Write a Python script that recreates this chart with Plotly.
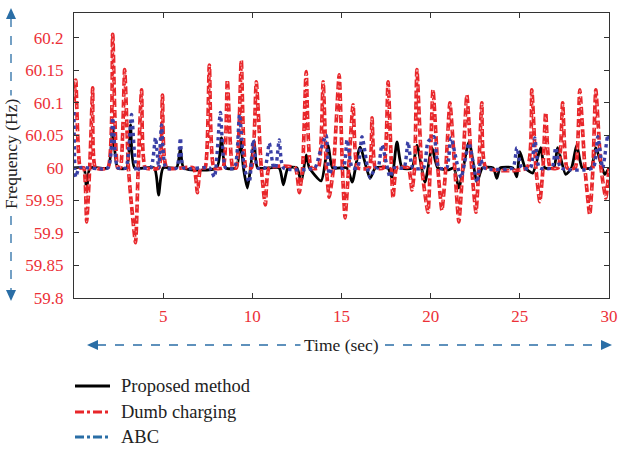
import plotly.graph_objects as go

# ---------------- data ----------------
t_proposed = [0, 0.55, 0.71, 0.9, 1.9, 2.17, 2.45, 2.95, 3.17, 3.4, 4.5, 4.74, 5.0, 5.75, 5.97, 6.15,
              8.0, 8.27, 8.5, 9.1, 9.33, 9.5, 9.72, 9.9, 10.11, 10.3, 11.5, 11.74, 12.0, 12.5, 12.74,
              13.02, 13.2, 13.86, 14.25, 14.5, 15.3, 15.6, 16.04, 16.6, 16.9, 17.6, 17.83, 18.11, 18.4,
              18.95, 19.23, 19.68, 20.07, 20.4, 21.02, 21.3, 21.58, 22.15, 22.6, 22.9, 23.5, 23.71, 23.9,
              24.6, 24.83, 25.0, 25.3, 25.72, 26.17, 26.4, 26.9, 27.12, 27.57, 27.9, 28.19, 28.5, 29.0,
              29.26, 29.76, 30]
f_proposed = [60.0, 60.0, 59.963, 60.0, 60.0, 60.062, 60.0, 60.0, 60.066, 60.0, 60.0, 59.958, 60.0, 60.0, 60.03, 60.0,
              60.0, 60.046, 60.0, 60.0, 60.043, 60.0, 59.969, 60.0, 60.04, 60.0, 60.0, 59.974, 60.0, 60.0, 59.978,
              60.02, 60.0, 59.98, 60.035, 60.0, 60.0, 59.978, 60.032, 59.984, 60.0, 60.0, 59.985, 60.04, 60.0,
              60.0, 60.035, 59.978, 60.031, 60.0, 59.997, 60.0, 59.969, 60.04, 59.978, 60.0, 60.0, 59.984, 60.0,
              60.0, 59.986, 60.025, 60.0, 59.992, 60.031, 60.0, 60.0, 60.031, 59.99, 60.0, 60.035, 60.0, 60.0,
              60.031, 59.99, 60.0]

t_dumb = [0, 0.1, 0.35, 0.55, 0.71, 0.88, 0.95, 1.05, 1.2, 1.9, 2.17, 2.45, 2.6, 2.84, 3.05, 3.2, 3.45, 3.6,
          3.79, 4.0, 4.75, 4.96, 5.2, 6.7, 6.92, 7.1, 7.35, 7.59, 7.85, 8.35, 8.6, 8.9, 9.1, 9.38, 9.65, 9.95,
          10.22, 10.5, 10.73, 10.95, 12.4, 12.63, 12.82, 13.02, 13.3, 13.7, 13.97, 14.15, 14.31, 14.55, 14.87,
          15.05, 15.2, 15.4, 15.65, 15.9, 16.55, 16.71, 16.9, 17.35, 17.61, 17.89, 18.1, 18.75, 18.95, 19.1,
          19.23, 19.5, 19.85, 20.13, 20.4, 20.63, 20.85, 21.08, 21.35, 21.58, 21.8, 22.03, 22.3, 22.54, 22.7,
          22.87, 23.1, 25.4, 25.67, 25.9, 26.12, 26.3, 26.45, 26.7, 27.15, 27.4, 27.65, 28.1, 28.36, 28.65,
          28.92, 29.1, 29.26, 29.55, 29.82, 30]
f_dumb = [60.10, 60.135, 60.0, 60.0, 59.917, 60.0, 60.05, 60.123, 60.0, 60.0, 60.205, 60.0, 60.0, 60.151, 60.0, 59.95, 59.885, 60.0,
          60.12, 60.0, 60.0, 60.112, 60.0, 60.0, 59.962, 60.0, 60.0, 60.158, 60.0, 60.0, 60.135, 60.0, 60.0, 60.165, 60.0, 60.0,
          60.132, 60.0, 59.943, 60.0, 60.0, 59.962, 60.0, 60.148, 60.0, 60.0, 60.132, 60.0, 59.955, 60.0, 60.143,
          60.0, 59.923, 60.0, 60.097, 60.0, 60.0, 60.077, 60.0, 60.0, 60.132, 59.954, 60.0, 60.0, 59.966, 60.0,
          60.151, 60.0, 59.932, 60.12, 60.0, 59.935, 60.0, 60.1, 60.0, 59.917, 60.0, 60.112, 60.0, 59.932, 60.0,
          60.1, 60.0, 60.0, 60.12, 60.0, 59.948, 60.0, 60.085, 60.0, 60.0, 60.1, 60.0, 60.0, 60.12, 60.0,
          59.928, 60.0, 60.12, 60.0, 59.954, 60.0]

t_abc = [0, 0.1, 0.3, 1.9, 2.17, 2.45, 2.9, 3.23, 3.51, 3.7, 4.3, 4.57, 4.75, 4.91, 5.15, 5.75, 5.97, 6.15,
         7.6, 7.87, 8.21, 8.5, 9.0, 9.28, 9.55, 9.83, 10.05, 10.3, 10.7, 10.95, 11.2, 11.3, 11.51, 11.75,
         13.5, 13.75, 14.14, 14.31, 14.5, 15.1, 15.31, 15.6, 15.9, 16.15, 16.6, 16.9, 17.05, 17.27, 17.72,
         17.95, 18.5, 18.73, 19.0, 19.6, 19.85, 20.18, 20.45, 20.9, 21.14, 21.7, 22.15, 22.6, 22.82, 23.0,
         24.6, 24.83, 25.1, 25.6, 25.84, 26.1, 26.8, 27.01, 27.3, 29.1, 29.37, 29.65, 29.93, 30]
f_abc = [60.086, 59.986, 60.0, 60.0, 60.077, 60.0, 60.0, 60.082, 59.994, 60.0, 60.0, 60.046, 60.0, 60.066, 60.0, 60.0, 60.046, 60.0,
         60.0, 59.986, 60.085, 60.0, 60.0, 60.082, 60.0, 59.978, 60.043, 60.0, 60.0, 60.038, 60.0, 60.0, 60.043, 60.0,
         60.0, 60.02, 60.05, 59.99, 60.0, 60.0, 60.043, 60.0, 60.0, 60.048, 59.985, 60.0, 60.0, 60.035, 59.986,
         60.0, 60.0, 60.04, 60.0, 60.0, 60.04, 60.048, 60.0, 60.0, 60.046, 59.985, 60.038, 59.978, 60.012, 60.0,
         60.0, 60.031, 60.0, 60.0, 60.046, 60.0, 60.0, 60.031, 60.0, 60.0, 60.048, 60.0, 60.05, 60.04]

x_ticks = [5, 10, 15, 20, 25, 30]
y_ticks = [59.8, 59.85, 59.9, 59.95, 60.0, 60.05, 60.1, 60.15, 60.2]
y_ticktext = ["59.8", "59.85", "59.9", "59.95", "60", "60.05", "60.1", "60.15", "60.2"]
legend_names = ["Proposed method", "Dumb charging", "ABC"]

# ---------------- style ----------------
FONT = "Liberation Serif"
RED = "#e8262a"
NAVY = "#3a40a6"
ARROW = "#2a6ea6"
TICKRED = "#ec3037"

fig = go.Figure()
fig.add_trace(go.Scatter(x=t_proposed, y=f_proposed, mode="lines", showlegend=False, name=legend_names[0],
                         line=dict(color="black", width=2.8, shape="spline", smoothing=0.6)))
fig.add_trace(go.Scatter(x=t_dumb, y=f_dumb, mode="lines", showlegend=False, name=legend_names[1],
                         line=dict(color=RED, width=3.7, dash="8px,3px", shape="spline", smoothing=0.5)))
fig.add_trace(go.Scatter(x=t_dumb, y=f_dumb, mode="lines", showlegend=False, hoverinfo="skip",
                         line=dict(color="rgba(255,225,225,0.75)", width=0.9, dash="2px,4px",
                                   shape="spline", smoothing=0.5)))
fig.add_trace(go.Scatter(x=t_abc, y=f_abc, mode="lines", showlegend=False, name=legend_names[2],
                         line=dict(color=NAVY, width=3.4, dash="dot", shape="spline", smoothing=0.6)))

X0, X1, Y0, Y1 = 74, 609, 13, 298
def px(x):
    return (x - X0) / (X1 - X0)
def py(y):
    return (Y1 - y) / (Y1 - Y0)

shapes = []
# y-axis arrow
shapes.append(dict(type="line", xref="paper", yref="paper", x0=px(11), x1=px(11), y0=py(18), y1=py(291),
                   line=dict(color=ARROW, width=1.3, dash="dash")))
shapes.append(dict(type="path", xref="paper", yref="paper", fillcolor=ARROW, line=dict(width=0),
                   path=f"M {px(11)},{py(8)} L {px(6)},{py(19)} L {px(16)},{py(19)} Z"))
shapes.append(dict(type="path", xref="paper", yref="paper", fillcolor=ARROW, line=dict(width=0),
                   path=f"M {px(11)},{py(301)} L {px(6)},{py(290)} L {px(16)},{py(290)} Z"))
# x-axis arrow
shapes.append(dict(type="line", xref="paper", yref="paper", x0=px(97), x1=px(602), y0=py(345), y1=py(345),
                   line=dict(color=ARROW, width=1.3, dash="dash")))
shapes.append(dict(type="path", xref="paper", yref="paper", fillcolor=ARROW, line=dict(width=0),
                   path=f"M {px(87)},{py(345)} L {px(98)},{py(340)} L {px(98)},{py(350)} Z"))
shapes.append(dict(type="path", xref="paper", yref="paper", fillcolor=ARROW, line=dict(width=0),
                   path=f"M {px(612)},{py(345)} L {px(601)},{py(340)} L {px(601)},{py(350)} Z"))

# legend keys (drawn manually)
legend_styles = [("black", "solid"), (RED, "dashdot"), (ARROW, "dashdot")]
legend_y = [386, 412, 437]
annotations = []
for name, (col, dsh), ly in zip(legend_names, legend_styles, legend_y):
    shapes.append(dict(type="line", xref="paper", yref="paper", x0=px(75), x1=px(110), y0=py(ly), y1=py(ly),
                       line=dict(color=col, width=3, dash=dsh)))
    annotations.append(dict(text=name, xref="paper", yref="paper", x=px(119), y=py(ly), showarrow=False,
                            xanchor="left", yanchor="middle", font=dict(family=FONT, size=18.5, color="#222")))

annotations += [
    dict(text="Frequency (Hz)", xref="paper", yref="paper", x=px(11), y=py(154), showarrow=False,
         textangle=-90, font=dict(family=FONT, size=17.5, color="#222"), bgcolor="white", borderpad=3,
         xanchor="center", yanchor="middle"),
    dict(text="Time (sec)", xref="paper", yref="paper", x=px(341), y=py(345), showarrow=False,
         font=dict(family=FONT, size=17.5, color="#222"), bgcolor="white", borderpad=3,
         xanchor="center", yanchor="middle"),
]

fig.update_layout(
    width=619, height=449, autosize=False,
    margin=dict(l=X0, r=619 - X1, t=Y0, b=449 - Y1, pad=0),
    paper_bgcolor="white", plot_bgcolor="white",
    font=dict(family=FONT, color="#222"),
    shapes=shapes, annotations=annotations,
    showlegend=False,
    xaxis=dict(range=[0, 30], tickvals=x_ticks, ticks="inside", ticklen=5, tickcolor="#333",
               showline=True, linecolor="#333", linewidth=1, mirror="ticks", showgrid=False, zeroline=False,
               tickfont=dict(family=FONT, size=17, color=TICKRED), ticklabelstandoff=3, automargin=False),
    yaxis=dict(range=[59.8, 60.238], tickvals=y_ticks, ticktext=y_ticktext, ticks="inside", ticklen=5,
               tickcolor="#333", showline=True, linecolor="#333", linewidth=1, mirror="ticks",
               showgrid=False, zeroline=False, tickfont=dict(family=FONT, size=17, color=TICKRED),
               ticklabelstandoff=6, automargin=False),
)

fig.write_html("out.html", config={"responsive": False, "displayModeBar": False},
               post_script="document.body.style.margin='0';document.body.style.overflow='hidden';")
